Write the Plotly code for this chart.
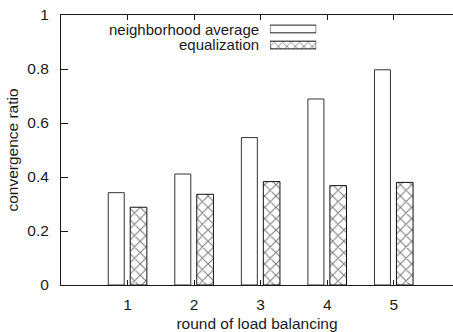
import plotly.graph_objects as go

# Convergence ratio per load-balancing round
rounds = [1, 2, 3, 4, 5]
neighborhood_average = [0.342, 0.411, 0.546, 0.689, 0.797]
equalization = [0.288, 0.336, 0.383, 0.368, 0.380]
tick_labels = ["1", "2", "3", "4", "5"]
series_names = ["neighborhood average", "equalization"]

FONT = "Liberation Sans, Arial, Helvetica, sans-serif"
INK = "#1a1a1a"
FS = 15.5
KEY_FS = 15

fig = go.Figure()

fig.add_trace(go.Bar(
    x=rounds, y=neighborhood_average, name=series_names[0],
    width=0.24, offset=-0.29,
    marker=dict(color="white", line=dict(color="#333333", width=1)),
    showlegend=False,
))
fig.add_trace(go.Bar(
    x=rounds, y=equalization, name=series_names[1],
    width=0.25, offset=0.04,
    marker=dict(color="white", line=dict(color="#111111", width=1),
                pattern=dict(shape="x", fgcolor="#000000", bgcolor="white",
                             size=8, solidity=0.26)),
    showlegend=False,
))

# Key samples drawn as horizontal bars on a small hidden axis pair
key_rows = [1, 0]
key_span = [1, 1]
fig.add_trace(go.Bar(
    x=key_span[:1], y=key_rows[:1], orientation="h", width=0.48,
    xaxis="x2", yaxis="y2", showlegend=False, hoverinfo="skip",
    marker=dict(color="white", line=dict(color=INK, width=1)),
))
fig.add_trace(go.Bar(
    x=key_span[1:], y=key_rows[1:], orientation="h", width=0.48,
    xaxis="x2", yaxis="y2", showlegend=False, hoverinfo="skip",
    marker=dict(color="white", line=dict(color="#111111", width=1),
                pattern=dict(shape="x", fgcolor="#000000", bgcolor="white",
                             size=6, solidity=0.26)),
))

for name, ypos in zip(series_names, [0.948, 0.889]):
    fig.add_annotation(
        text=name, xref="paper", yref="paper", x=0.508, y=ypos,
        xanchor="right", yanchor="middle", showarrow=False,
        borderpad=0,
        font=dict(family=FONT, size=KEY_FS, color=INK),
    )

fig.update_layout(
    width=453, height=332,
    margin=dict(l=61, r=0, t=15, b=47),
    paper_bgcolor="white", plot_bgcolor="white",
    barmode="overlay",
    font=dict(family=FONT, size=FS, color=INK),
    xaxis=dict(
        range=[0, 5.89], tickvals=rounds, ticktext=tick_labels,
        ticks="inside", ticklen=5, tickcolor=INK, tickwidth=1,
        showline=True, linecolor=INK, linewidth=1, mirror="allticks",
        showgrid=False, zeroline=False,
        title=dict(text="round of load balancing", standoff=7,
                   font=dict(size=FS)),
        ticklabelstandoff=5,
    ),
    yaxis=dict(
        range=[0, 1], tickvals=[0, 0.2, 0.4, 0.6, 0.8, 1],
        ticktext=["0", "0.2", "0.4", "0.6", "0.8", "1"],
        ticks="inside", ticklen=7, tickcolor=INK, tickwidth=1,
        showline=True, linecolor=INK, linewidth=1, mirror=False,
        showgrid=False, zeroline=False,
        title=dict(text="convergence ratio", standoff=4,
                   font=dict(size=FS)),
        ticklabelstandoff=8,
    ),
    xaxis2=dict(domain=[0.533, 0.651], range=[0, 1], anchor="y2",
                visible=False, fixedrange=True),
    yaxis2=dict(domain=[0.859, 0.978], range=[-0.5, 1.5], anchor="x2",
                visible=False, fixedrange=True),
)

fig.write_html("out.html")
